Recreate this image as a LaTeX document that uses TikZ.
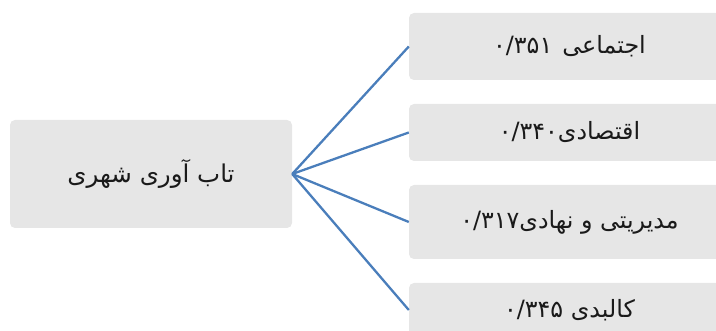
\documentclass[tikz,border=0pt]{standalone}
\usepackage{fontspec}
\newfontfamily\arabicfont[Script=Arabic]{DejaVu Sans}
\TeXXeTstate=1
\definecolor{boxgray}{HTML}{E6E6E6}
\definecolor{linkblue}{HTML}{4A7EBB}
\definecolor{textdark}{HTML}{1A1A1A}
\tikzset{
  graybox/.style={fill=boxgray, draw=none, rounded corners=5pt, inner sep=0pt,
    font=\arabicfont\fontsize{23.8}{28}\selectfont, text=textdark},
  link/.style={draw=linkblue, line width=2.3pt}
}
\begin{document}
\begin{tikzpicture}[x=1pt,y=-1pt]
\useasboundingbox (0,0) rectangle (716,331);
\node[graybox, minimum width=282pt, minimum height=108pt, font=\arabicfont\fontsize{24.5}{29}\selectfont] (root) at (151,174) {\beginR تاب آوری شهری\endR};
\node[graybox, minimum width=321pt, minimum height=67pt] (b1) at (569.5,46.5) {\beginR اجتماعی\hspace{10pt}\beginL ۰/۳۵۱\endL\endR};
\node[graybox, minimum width=321pt, minimum height=57pt] (b2) at (569.5,132.5) {\beginR اقتصادی\beginL ۰/۳۴۰\endL\endR};
\node[graybox, minimum width=321pt, minimum height=74pt] (b3) at (569.5,222) {\beginR مدیریتی و نهادی\beginL ۰/۳۱۷\endL\endR};
\node[graybox, minimum width=321pt, minimum height=54pt] (b4) at (569.5,310) {\beginR کالبدی \beginL ۰/۳۴۵\endL\endR};
\draw[link] (root.east) -- (b1.west);
\draw[link] (root.east) -- (b2.west);
\draw[link] (root.east) -- (b3.west);
\draw[link] (root.east) -- (b4.west);
\end{tikzpicture}
\end{document}
